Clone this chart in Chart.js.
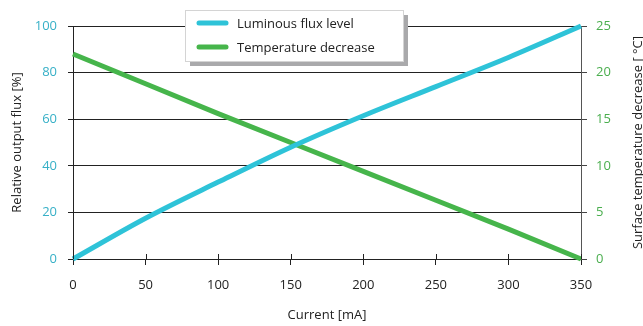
<!DOCTYPE html>
<html>
<head>
<meta charset="utf-8">
<script src="https://cdn.jsdelivr.net/npm/chart.js@4/dist/chart.umd.min.js"></script>
<style>
  html, body { margin: 0; padding: 0; background: #fff; }
  #wrap { width: 643px; height: 326px; position: relative; }
</style>
</head>
<body>
<div id="wrap"><canvas id="grafico" width="643" height="326"></canvas></div>
<script>
// valores
const currentMA = [0, 50, 100, 150, 200, 250, 300, 350];
const fluxLevel = [0, 17.5, 33, 48, 61.5, 74, 86.5, 100];
const tempDecrease = [22, 18.8, 15.6, 12.5, 9.4, 6.3, 3.2, 0];
const fluxTicks = [0, 20, 40, 60, 80, 100];
const tempTicks = [0, 5, 10, 15, 20, 25];
const currentTicks = [0, 50, 100, 150, 200, 250, 300, 350];

const CYAN = "#2ec3d8";
const GREEN = "#46b54b";
const FONT = "'Open Sans', 'Noto Sans', sans-serif";
const RIGHT_TITLE = "Surface temperature decrease [ °C]";

// legenda desenhada à mão (caixa com sombra)
const legendBox = {
  id: "legendBox",
  afterDraw(chart) {
    const ctx = chart.ctx;
    const x = 185, y = 10, w = 218, h = 51;
    ctx.save();
    ctx.fillStyle = "#a9a9ab";
    ctx.fillRect(x + 5, y + 5, w, h);
    ctx.fillStyle = "#fff";
    ctx.fillRect(x, y, w, h);
    ctx.strokeStyle = "#d4d4d4";
    ctx.lineWidth = 1;
    ctx.strokeRect(x + 0.5, y + 0.5, w, h);
    ctx.lineCap = "round";
    ctx.lineWidth = 5;
    ctx.font = "13px " + FONT;
    ctx.textBaseline = "middle";
    chart.data.datasets.forEach((ds, i) => {
      const ly = y + 13 + i * 24;
      ctx.strokeStyle = ds.borderColor;
      ctx.beginPath();
      ctx.moveTo(x + 14, ly);
      ctx.lineTo(x + 41, ly);
      ctx.stroke();
      ctx.fillStyle = "#222";
      ctx.fillText(ds.label, x + 52, ly + 1);
    });
    ctx.restore();
  }
};

// título do eixo direito lido de baixo para cima, como no original
const rightTitle = {
  id: "rightTitle",
  afterDraw(chart) {
    const s = chart.scales.y2;
    const ctx = chart.ctx;
    ctx.save();
    ctx.translate(s.right - 5, (s.top + s.bottom) / 2);
    ctx.rotate(-Math.PI / 2);
    ctx.font = "13px " + FONT;
    ctx.fillStyle = "#222";
    ctx.textAlign = "center";
    ctx.textBaseline = "middle";
    ctx.fillText(RIGHT_TITLE, 0, 0);
    ctx.restore();
  }
};

// marcas do eixo x que cruzam a linha
const xInnerTicks = {
  id: "xInnerTicks",
  afterDatasetsDraw(chart) {
    const sx = chart.scales.x;
    const ctx = chart.ctx;
    ctx.save();
    ctx.strokeStyle = "#222";
    ctx.lineWidth = 1;
    sx.ticks.forEach((t, i) => {
      const px = Math.round(sx.getPixelForTick(i)) + 0.5;
      ctx.beginPath();
      ctx.moveTo(px, sx.top - 5);
      ctx.lineTo(px, sx.top);
      ctx.stroke();
    });
    ctx.restore();
  }
};

const ctx = document.getElementById("grafico").getContext("2d");
new Chart(ctx, {
  type: "line",
  data: {
    datasets: [
      {
        label: "Luminous flux level",
        data: currentMA.map((c, i) => ({ x: c, y: fluxLevel[i] })),
        borderColor: CYAN,
        borderWidth: 5,
        pointRadius: 0,
        cubicInterpolationMode: "monotone",
        yAxisID: "y",
        clip: 8
      },
      {
        label: "Temperature decrease",
        data: currentMA.map((c, i) => ({ x: c, y: tempDecrease[i] })),
        borderColor: GREEN,
        borderWidth: 5,
        pointRadius: 0,
        yAxisID: "y2",
        clip: 8
      }
    ]
  },
  options: {
    responsive: false,
    animation: false,
    devicePixelRatio: 1,
    layout: { padding: { top: 26, left: 0, right: 0, bottom: 0 } },
    plugins: {
      legend: { display: false },
      tooltip: { enabled: false }
    },
    scales: {
      x: {
        type: "linear",
        min: 0,
        max: 350,
        afterBuildTicks: (s) => { s.ticks = currentTicks.map(v => ({ value: v })); },
        afterFit: (s) => { s.height = 67; },
        ticks: { color: "#222", font: { family: FONT, size: 13 }, padding: 12, maxRotation: 0 },
        grid: { drawOnChartArea: false, drawTicks: true, tickLength: 6, color: "#222" },
        border: { color: "#222", width: 1 },
        title: { display: true, text: "Current [mA]", color: "#222", font: { family: FONT, size: 13 }, padding: { top: 3, bottom: 3 } }
      },
      y: {
        position: "left",
        min: 0,
        max: 100,
        afterBuildTicks: (s) => { s.ticks = fluxTicks.map(v => ({ value: v })); },
        afterFit: (s) => { s.width = 73; },
        ticks: { color: "#37b0c7", font: { family: FONT, size: 13 }, padding: 11 },
        grid: { color: "#222", lineWidth: 1, tickLength: 5 },
        border: { color: "#222", width: 1 },
        title: { display: true, text: "Relative output flux [%]", color: "#222", font: { family: FONT, size: 13 }, padding: { top: 9, bottom: 0 } }
      },
      y2: {
        position: "right",
        min: 0,
        max: 25,
        afterBuildTicks: (s) => { s.ticks = tempTicks.map(v => ({ value: v })); },
        afterFit: (s) => { s.width = 62; },
        ticks: { color: "#4aae4e", font: { family: FONT, size: 13 }, padding: 9 },
        grid: { drawOnChartArea: false, color: "#444", tickLength: 6 },
        border: { color: "#555", width: 1 },
        title: { display: false }
      }
    }
  },
  plugins: [xInnerTicks, rightTitle, legendBox]
});
</script>
</body>
</html>
